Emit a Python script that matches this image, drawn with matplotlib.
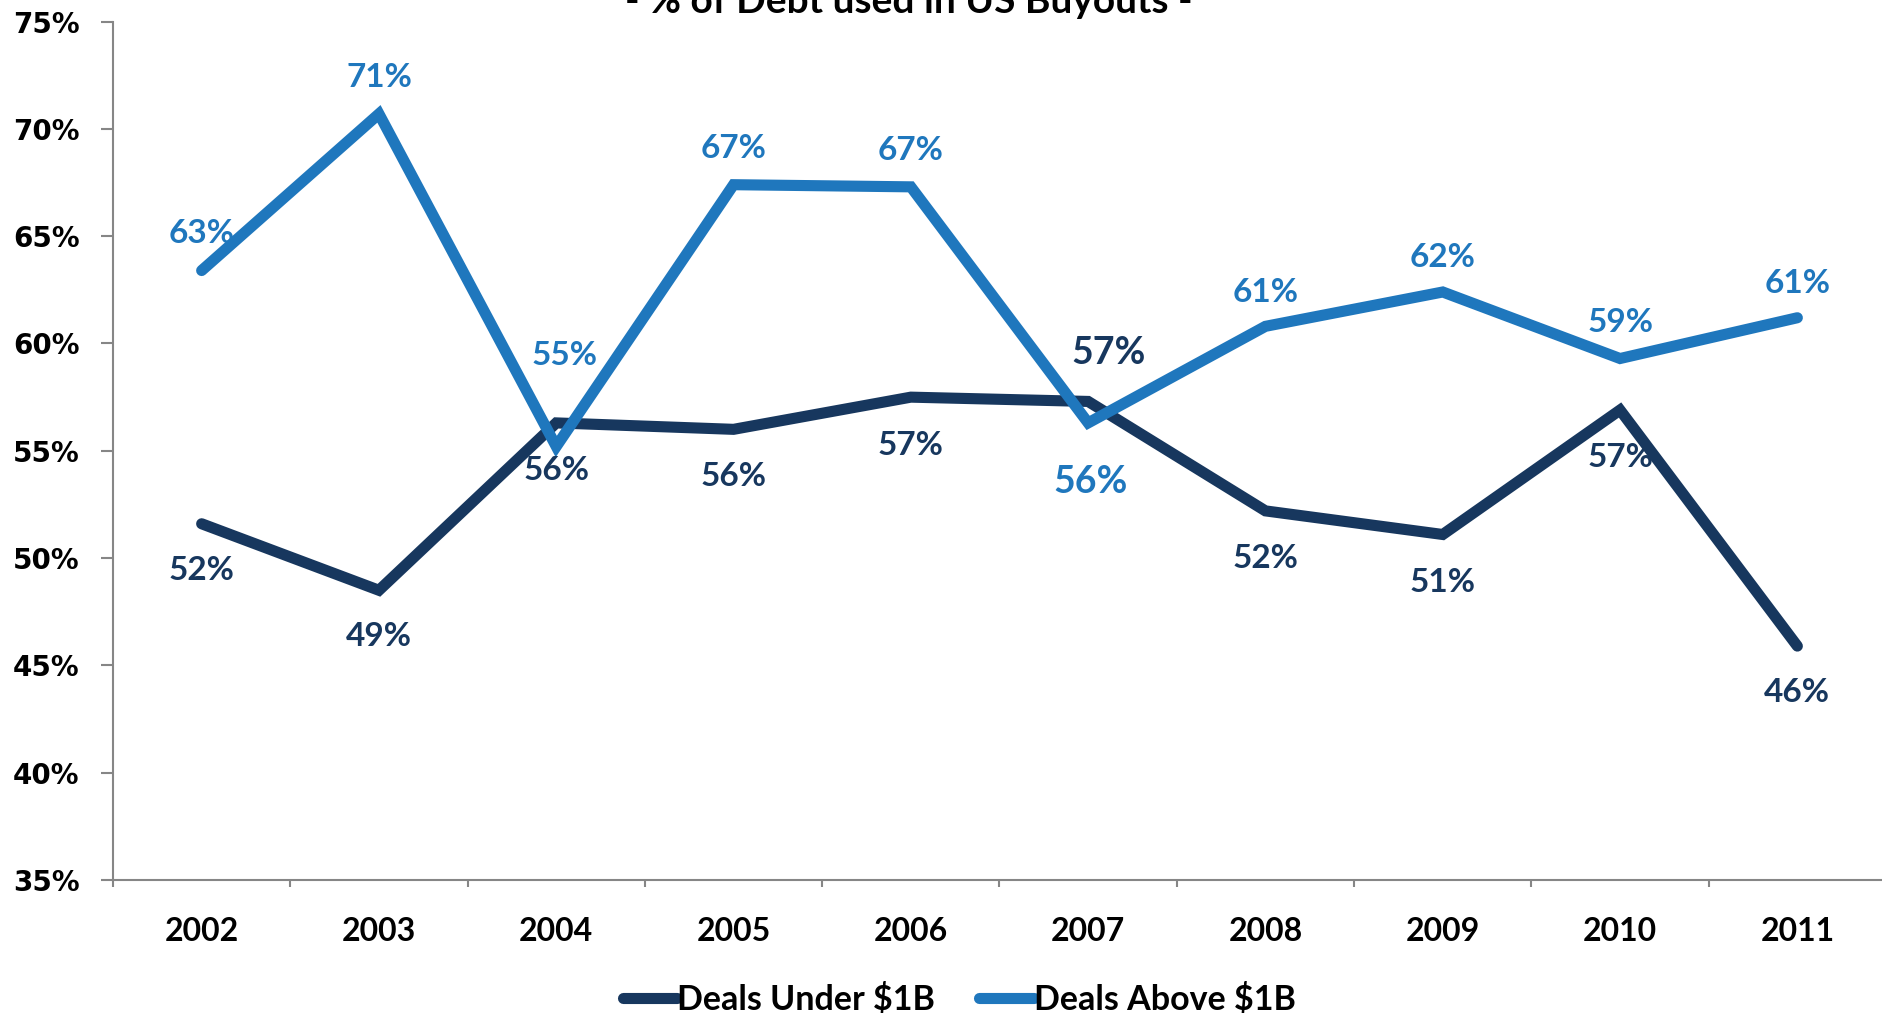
import matplotlib
matplotlib.use("Agg")
import matplotlib.pyplot as plt
from matplotlib.ticker import FixedLocator, FuncFormatter

years = ["2002", "2003", "2004", "2005", "2006", "2007", "2008", "2009", "2010", "2011"]
under_1b = [51.6, 48.5, 56.3, 56.0, 57.5, 57.3, 52.2, 51.1, 56.9, 45.9]
above_1b = [63.4, 70.7, 55.2, 67.4, 67.3, 56.3, 60.8, 62.4, 59.3, 61.2]
under_labels = ["52%", "49%", "56%", "56%", "57%", "57%", "52%", "51%", "57%", "46%"]
above_labels = ["63%", "71%", "55%", "67%", "67%", "56%", "61%", "62%", "59%", "61%"]
yticks = [35, 40, 45, 50, 55, 60, 65, 70, 75]
title = "- % of Debt used in US Buyouts -"
series_names = ["Deals Under $1B", "Deals Above $1B"]

DARK = "#17375E"
LIGHT = "#1F77BD"
GRAY = "#868686"

# label offsets in pixels (dx, dy) and sizes
under_off = [(0, -47), (0, -46), (0, -48), (0, -47), (0, -48), (20, 48), (0, -48), (0, -48), (0, -47), (0, -46)]
above_off = [(0, 37), (0, 36), (8, 91), (0, 36), (0, 36), (2, -59), (0, 34), (0, 34), (0, 36), (0, 34)]
under_fs = [24, 24, 24, 24, 24, 27, 24, 24, 24, 24]
above_fs = [24, 24, 24, 24, 24, 27, 24, 24, 24, 24]

fig = plt.figure(figsize=(18.82, 10.13), dpi=100)
W, H = 1882, 1013
ax = fig.add_axes([113 / W, 133 / H, 1773 / W, (880 - 21.6) / H])

x = list(range(len(years)))
l1, = ax.plot(x, under_1b, color=DARK, lw=8, solid_capstyle="round", solid_joinstyle="miter", zorder=3)
l2, = ax.plot(x, above_1b, color=LIGHT, lw=8, solid_capstyle="round", solid_joinstyle="miter", zorder=4)

for xi, v, t, off, fs in zip(x, under_1b, under_labels, under_off, under_fs):
    ax.annotate(t, (xi, v), xytext=off, textcoords="offset pixels", ha="center", va="center",
                fontsize=fs, fontweight="bold", color=DARK, family="Lato", zorder=5)
for xi, v, t, off, fs in zip(x, above_1b, above_labels, above_off, above_fs):
    ax.annotate(t, (xi, v), xytext=off, textcoords="offset pixels", ha="center", va="center",
                fontsize=fs, fontweight="bold", color=LIGHT, family="Lato", zorder=5)

ax.set_xlim(-0.5, len(years) - 0.5)
ax.set_ylim(yticks[0], yticks[-1])
ax.yaxis.set_major_locator(FixedLocator(yticks))
ax.yaxis.set_major_formatter(FuncFormatter(lambda v, p: f"{int(v)}%"))
ax.set_xticks(x)
ax.set_xticklabels(years)
ax.set_xticks([i - 0.5 for i in range(len(years) + 1)], minor=True)

for s in ["top", "right"]:
    ax.spines[s].set_visible(False)
for s in ["left", "bottom"]:
    ax.spines[s].set_color(GRAY)
    ax.spines[s].set_linewidth(1.5)

ax.tick_params(axis="y", which="major", length=9, width=1.5, color=GRAY, pad=15, labelsize=20)
ax.tick_params(axis="x", which="major", length=0, pad=26.5, labelsize=23)
ax.tick_params(axis="x", which="minor", length=5, width=1.5, color=GRAY)
for lab in ax.get_yticklabels():
    lab.set_fontfamily("DejaVu Sans")
    lab.set_fontweight("bold")
for lab in ax.get_xticklabels():
    lab.set_fontfamily("Lato")
    lab.set_fontweight("bold")

fig.text(909 / W, 1 - 13 / H, title, ha="center", va="baseline", fontsize=28, fontweight="bold",
         family="Lato", color="black")

leg = fig.legend([l1, l2], series_names, loc="center", bbox_to_anchor=(959 / W, 1 - 999 / H), ncol=2,
                 frameon=False, handlelength=1.6, handletextpad=0.0, columnspacing=1.3,
                 prop={"family": "Lato", "weight": "bold", "size": 24.5})

fig.savefig("out.png", dpi=100)
